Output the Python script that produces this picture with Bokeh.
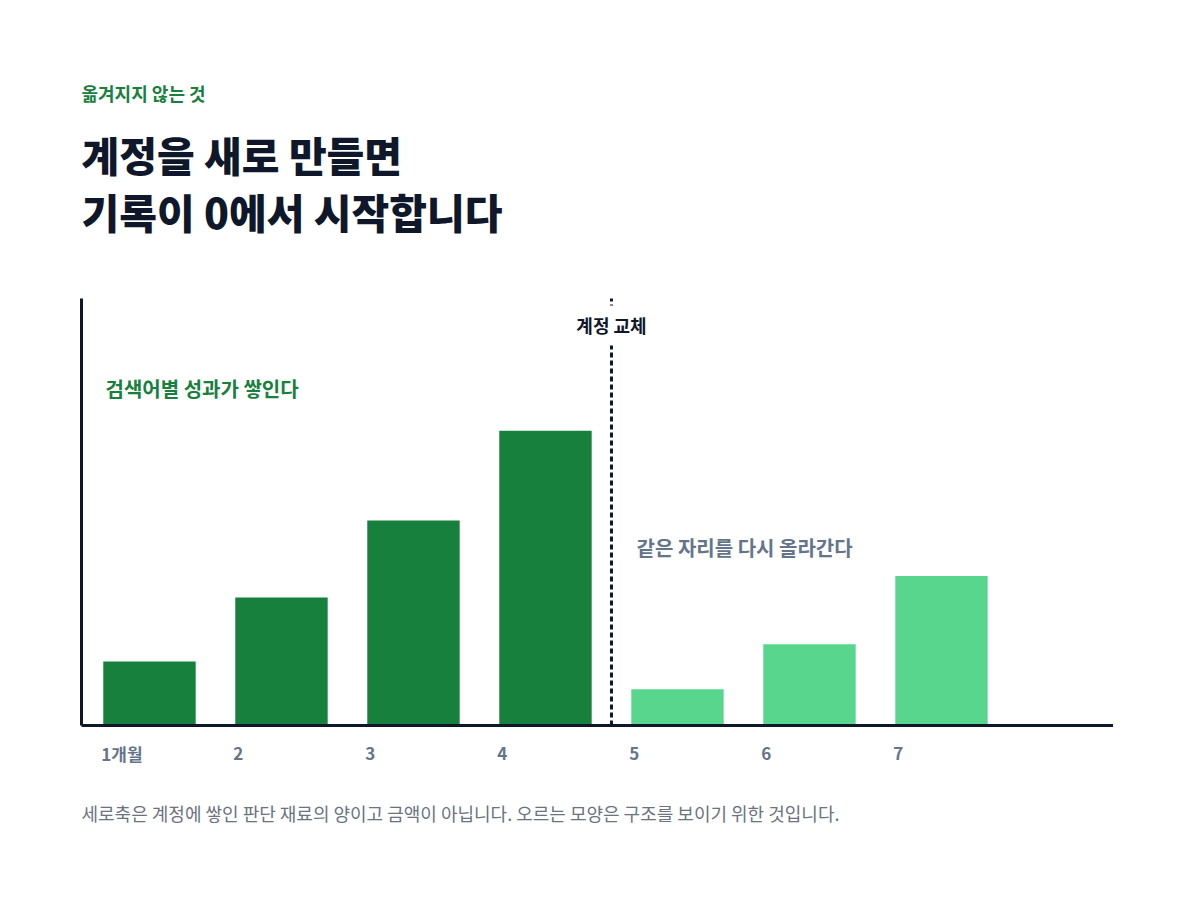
from bokeh.plotting import figure
from bokeh.models import Range1d, Label
from bokeh.core.properties import value
from bokeh.embed import file_html
from bokeh.resources import INLINE

# data
months = [1, 2, 3, 4, 5, 6, 7]
month_labels = ["1개월", "2", "3", "4", "5", "6", "7"]
amounts = [15, 30, 48, 69, 8.5, 19, 35]
phase = ["old", "old", "old", "old", "new", "new", "new"]

kicker = "옮겨지지 않는 것"
title_lines = ["계정을 새로 만들면", "기록이 0에서 시작합니다"]
note_old = "검색어별 성과가 쌓인다"
note_new = "같은 자리를 다시 올라간다"
switch_label = "계정 교체"
footnote = "세로축은 계정에 쌓인 판단 재료의 양이고 금액이 아닙니다. 오르는 모양은 구조를 보이기 위한 것입니다."

FONT = "Noto Sans CJK KR"
HEAVY = "Noto Sans CJK KR Black, Noto Sans CJK KR"
INK = "#0f172a"
GREEN = "#17803d"
LIGHT = "#58d68d"
SLATE = "#64748b"
GREY = "#6b7280"
BAR_W = 0.7

# chart area in data units; the canvas is one big frame around it
X_LO, X_HI = 0.485, 8.3
Y_LO, Y_HI = 0, 100
W, H = 1200, 906
PX_X = 132.0           # px per month
PX_Y = 4.27            # px per value unit
LEFT_PX, BASE_PX = 81, 725   # where the chart area starts / where y=0 sits

xr = Range1d(X_LO - LEFT_PX / PX_X, X_LO + (W - LEFT_PX) / PX_X)
yr = Range1d(Y_LO - (H - BASE_PX) / PX_Y, Y_LO + BASE_PX / PX_Y)

colors = [GREEN if ph == "old" else LIGHT for ph in phase]

p = figure(width=W, height=H, x_range=xr, y_range=yr,
           output_backend="svg", toolbar_location=None, tools="",
           min_border=0)
p.axis.visible = False
p.grid.visible = False
p.outline_line_color = None
p.background_fill_color = "white"
p.border_fill_color = "white"

p.vbar(x=months, top=amounts, width=BAR_W, bottom=0, fill_color=colors,
       line_color=None)

# axis lines
p.segment(x0=[X_LO, X_LO], y0=[Y_LO, Y_LO], x1=[X_HI, X_LO], y1=[Y_LO, Y_HI],
          line_color=INK, line_width=3)

# account switch marker
switch_x = (months[3] + months[4]) / 2
p.segment(x0=[switch_x], y0=[Y_LO], x1=[switch_x], y1=[Y_HI],
          line_color=INK, line_width=3, line_dash="5 3")
p.add_layout(Label(x=switch_x, y=93.7, text=switch_label, text_align="center",
                   text_baseline="middle", text_font=FONT, text_font_style="bold",
                   text_font_size="18px", text_color=INK,
                   background_fill_color="white", padding=7))

# notes inside the chart
p.text(x=[0.667], y=[78.9], text=[note_old], text_font=value(FONT),
       text_font_style="bold", text_font_size="20px", text_color=GREEN,
       text_align="left", text_baseline="middle")
p.text(x=[4.69], y=[41.7], text=[note_new], text_font=value(FONT),
       text_font_style="bold", text_font_size="20px", text_color=SLATE,
       text_align="left", text_baseline="middle")

# month labels, left aligned under each bar
p.text(x=[m - BAR_W / 2 - 0.015 for m in months], y=[-6.6] * len(months),
       text=month_labels, text_font=value(FONT), text_font_style="bold",
       text_font_size="17px", text_color=SLATE,
       text_align="left", text_baseline="middle")

# heading and footnote
p.text(x=[X_LO], y=[148.2], text=[kicker], text_font=value(FONT),
       text_font_style="bold", text_font_size="18px", text_color=GREEN,
       text_align="left", text_baseline="middle")
p.text(x=[X_LO, X_LO], y=[133.9, 120.5], text=title_lines,
       text_font=value(HEAVY), text_font_style="bold", text_font_size="41px",
       text_color=INK, text_align="left", text_baseline="middle")
p.text(x=[X_LO], y=[-20.6], text=[footnote], text_font=value(FONT),
       text_font_size="18px", text_color=GREY,
       text_align="left", text_baseline="middle")

open("out.html", "w").write(file_html(p, INLINE))
